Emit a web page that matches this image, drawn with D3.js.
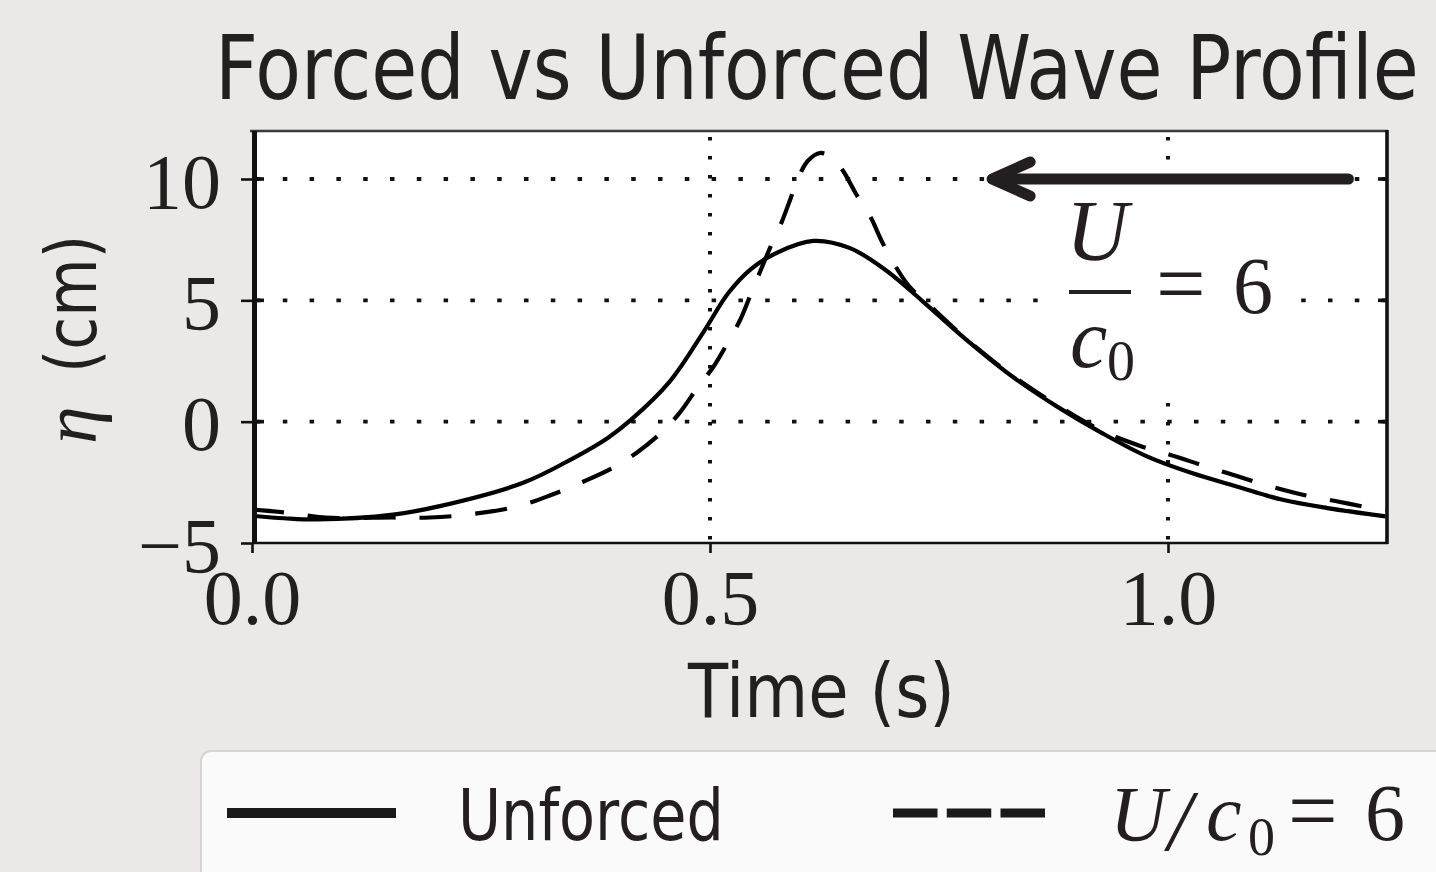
<!DOCTYPE html>
<html>
<head>
<meta charset="utf-8">
<script src="https://cdn.jsdelivr.net/npm/d3@7"></script>
<style>
  html, body { margin: 0; padding: 0; background: #eae9e7; }
  svg { display: block; }
</style>
</head>
<body>
<svg id="chart" width="1436" height="872"></svg>
<script>
// Surface elevation at the gauge, unforced run
const unforcedT   = [0, 0.035, 0.071, 0.154, 0.205, 0.296, 0.350, 0.388, 0.413, 0.456, 0.493, 0.520, 0.545, 0.574, 0.613, 0.653, 0.692, 0.731, 0.780, 0.830, 0.879, 0.928, 0.977, 1.026, 1.075, 1.124, 1.174, 1.238];
const unforcedEta = [-3.88, -3.98, -4.03, -3.83, -3.48, -2.52, -1.52, -0.68, 0.05, 1.65, 3.7, 5.3, 6.3, 6.98, 7.45, 7.15, 6.24, 5.0, 3.37, 1.86, 0.62, -0.47, -1.43, -2.12, -2.67, -3.21, -3.56, -3.9];

// Surface elevation with wind forcing U/c0 = 6
const forcedT   = [0, 0.038, 0.08, 0.154, 0.194, 0.235, 0.289, 0.328, 0.360, 0.394, 0.420, 0.448, 0.467, 0.487, 0.503, 0.520, 0.533, 0.545, 0.556, 0.566, 0.578, 0.588, 0.597, 0.607, 0.620, 0.633, 0.645, 0.660, 0.675, 0.688, 0.701, 0.717, 0.741, 0.780, 0.830, 0.879, 0.928, 0.972, 1.002, 1.041, 1.076, 1.112, 1.147, 1.184, 1.223, 1.238];
const forcedEta = [-3.62, -3.75, -3.95, -3.95, -3.95, -3.83, -3.5, -3.0, -2.5, -1.9, -1.28, -0.41, 0.37, 1.44, 2.22, 3.3, 4.2, 5.3, 6.3, 7.2, 8.2, 9.2, 10.1, 10.75, 11.07, 10.9, 10.35, 9.35, 8.45, 7.4, 6.5, 5.6, 4.75, 3.4, 1.9, 0.68, -0.38, -1.03, -1.36, -1.84, -2.25, -2.67, -3.01, -3.28, -3.56, -3.62];

const xTicks = [0, 0.5, 1.0];
const xTickLabels = ["0.0", "0.5", "1.0"];
const yTicks = [10, 5, 0, -5];
const yTickLabels = ["10", "5", "0", "\u22125"];
const gridX = [0.5, 1.0];
const gridY = [10, 5, 0];

// wind direction arrow, in data units (time, elevation)
const arrowFrom = [1.197, 10];
const arrowTo = [0.808, 10];

const INK = "#231f20";
const SANS = "'DejaVu Sans', sans-serif";
const SERIF = "'Liberation Serif', 'Times New Roman', serif";

const svg = d3.select("#chart");
const plot = { left: 252, right: 1386, top: 131, bottom: 543 };

const x = d3.scaleLinear().domain([0, 1.238]).range([plot.left, plot.right]);
const y = d3.scaleLinear().domain([-5, 12]).range([plot.bottom, plot.bottom - (plot.bottom - 179) * 17 / 15]);

// Sans text squeezed horizontally to a given width, anchored at its left baseline point
function narrowText(parent, str, px, py, size, width) {
  const g = parent.append("g");
  const t = g.append("text")
    .attr("x", 0).attr("y", 0)
    .attr("font-family", SANS).attr("font-size", size)
    .attr("fill", INK)
    .text(str);
  const natural = t.node().getComputedTextLength();
  g.attr("transform", `translate(${px},${py}) scale(${width / natural},1)`);
  return g;
}

// title
narrowText(svg, "Forced vs Unforced Wave Profile", 215, 99, 89, 1204);

// plot face
svg.append("rect")
  .attr("x", plot.left).attr("y", plot.top)
  .attr("width", plot.right - plot.left).attr("height", plot.bottom - plot.top)
  .attr("fill", "#ffffff");

svg.append("clipPath").attr("id", "plotClip")
  .append("rect")
  .attr("x", plot.left).attr("y", plot.top)
  .attr("width", plot.right - plot.left).attr("height", plot.bottom - plot.top);

const inner = svg.append("g").attr("clip-path", "url(#plotClip)");

// dotted grid
inner.selectAll("line.gy").data(gridY).join("line")
  .attr("class", "gy")
  .attr("x1", plot.left + 4).attr("x2", plot.right)
  .attr("y1", d => y(d)).attr("y2", d => y(d))
  .attr("stroke", "#111").attr("stroke-width", 3.8)
  .attr("stroke-dasharray", "4.5,22.3");

inner.selectAll("line.gx").data(gridX).join("line")
  .attr("class", "gx")
  .attr("x1", d => x(d)).attr("x2", d => x(d))
  .attr("y1", plot.top + 6).attr("y2", plot.bottom)
  .attr("stroke", "#111").attr("stroke-width", 4)
  .attr("stroke-dasharray", "3.6,15.4");

// annotation backing
inner.append("rect")
  .attr("x", 1045).attr("y", 190)
  .attr("width", 250).attr("height", 200)
  .attr("fill", "#ffffff");

const line = d3.line()
  .x(d => x(d[0])).y(d => y(d[1]))
  .curve(d3.curveCatmullRom.alpha(0.5));

const forced = d3.zip(forcedT, forcedEta);
const unforced = d3.zip(unforcedT, unforcedEta);

inner.append("path")
  .datum(forced)
  .attr("d", line)
  .attr("fill", "none").attr("stroke", "#000")
  .attr("stroke-width", 4.2)
  .attr("stroke-dasharray", "32,24");

inner.append("path")
  .datum(unforced)
  .attr("d", line)
  .attr("fill", "none").attr("stroke", "#000")
  .attr("stroke-width", 4.2);

// arrow showing wind direction
const ax0 = x(arrowFrom[0]), ay0 = y(arrowFrom[1]);
const ax1 = x(arrowTo[0]), ay1 = y(arrowTo[1]);
const arrow = inner.append("g")
  .attr("stroke", "#231f20").attr("stroke-width", 11)
  .attr("stroke-linecap", "round").attr("stroke-linejoin", "round")
  .attr("fill", "none");
arrow.append("line").attr("x1", ax0).attr("y1", ay0).attr("x2", ax1 + 4).attr("y2", ay1);
arrow.append("path")
  .attr("d", `M${ax1 + 38},${ay1 - 17} L${ax1},${ay1} L${ax1 + 38},${ay1 + 17}`);

// U / c0 = 6 annotation
const note = svg.append("g").attr("fill", INK).attr("font-family", SERIF);
note.append("text")
  .attr("x", 1066).attr("y", 260)
  .attr("font-size", 86).attr("font-style", "italic")
  .text("U");
note.append("line")
  .attr("x1", 1069).attr("x2", 1131)
  .attr("y1", 292).attr("y2", 292)
  .attr("stroke", INK).attr("stroke-width", 4);
note.append("text")
  .attr("x", 1070).attr("y", 367)
  .attr("font-size", 84).attr("font-style", "italic")
  .text("c");
note.append("text")
  .attr("x", 1107).attr("y", 380)
  .attr("font-size", 56)
  .text("0");
note.append("text")
  .attr("x", 1156).attr("y", 313)
  .attr("font-size", 88)
  .text("=");
note.append("text")
  .attr("x", 1233).attr("y", 313)
  .attr("font-size", 80)
  .text("6");

// spines
const spines = svg.append("g").attr("stroke", "#111");
spines.append("line").attr("x1", plot.left - 2).attr("x2", plot.right + 2)
  .attr("y1", plot.top).attr("y2", plot.top)
  .attr("stroke", "#3a3a3a").attr("stroke-width", 2.6);
spines.append("line").attr("x1", plot.left).attr("x2", plot.right + 2)
  .attr("y1", plot.bottom).attr("y2", plot.bottom)
  .attr("stroke-width", 2.6);
spines.append("line").attr("x1", plot.left + 2.5).attr("x2", plot.left + 2.5)
  .attr("y1", plot.top).attr("y2", plot.bottom + 1)
  .attr("stroke-width", 5);
spines.append("line").attr("x1", plot.right + 1).attr("x2", plot.right + 1)
  .attr("y1", plot.top - 1).attr("y2", plot.bottom + 1)
  .attr("stroke-width", 3.6);

// y axis
const yAxis = d3.axisLeft(y)
  .tickValues(yTicks)
  .tickSize(11)
  .tickPadding(20)
  .tickFormat((d, i) => yTickLabels[i]);
const gy = svg.append("g").attr("transform", `translate(${plot.left},0)`).call(yAxis);
gy.select(".domain").remove();
gy.selectAll(".tick line").attr("stroke", "#111").attr("stroke-width", 2.6);
gy.selectAll(".tick text")
  .attr("font-family", SERIF).attr("font-size", 78)
  .attr("fill", INK).attr("dy", "0.36em");

// inward tick marks on both sides
const innerTicks = svg.append("g").attr("stroke", "#111").attr("stroke-width", 3.6);
innerTicks.selectAll("line.l").data(gridY).join("line").attr("class", "l")
  .attr("x1", plot.left).attr("x2", plot.left + 12)
  .attr("y1", d => y(d)).attr("y2", d => y(d));
innerTicks.selectAll("line.r").data(gridY).join("line").attr("class", "r")
  .attr("x1", plot.right - 8).attr("x2", plot.right)
  .attr("y1", d => y(d)).attr("y2", d => y(d));

// x axis
const xAxis = d3.axisBottom(x)
  .tickValues(xTicks)
  .tickSize(10)
  .tickPadding(20)
  .tickFormat((d, i) => xTickLabels[i]);
const gx = svg.append("g").attr("transform", `translate(0,${plot.bottom})`).call(xAxis);
gx.select(".domain").remove();
gx.selectAll(".tick line").attr("stroke", "#111").attr("stroke-width", 2.6);
gx.selectAll(".tick text")
  .attr("font-family", SERIF).attr("font-size", 78)
  .attr("fill", INK).attr("dy", "0.66em");

// axis titles
narrowText(svg, "Time (s)", 688, 717, 75, 267);

const yl = svg.append("g").attr("transform", "translate(96,340) rotate(-90)").attr("fill", INK);
yl.append("text")
  .attr("x", -104).attr("y", 0)
  .attr("font-family", SERIF).attr("font-style", "italic").attr("font-size", 76)
  .text("\u03b7");
narrowText(yl, "(cm)", -33, 0, 72, 138);

// legend
const lg = svg.append("g");
lg.append("rect")
  .attr("x", 201).attr("y", 751)
  .attr("width", 1300).attr("height", 200)
  .attr("rx", 10)
  .attr("fill", "#fafafa").attr("stroke", "#d4d4d4").attr("stroke-width", 2);
lg.append("line")
  .attr("x1", 227).attr("x2", 396).attr("y1", 813).attr("y2", 813)
  .attr("stroke", "#1a1a1a").attr("stroke-width", 10);
narrowText(lg, "Unforced", 458, 840, 72, 266);
lg.append("line")
  .attr("x1", 893).attr("x2", 1045).attr("y1", 813).attr("y2", 813)
  .attr("stroke", "#1a1a1a").attr("stroke-width", 9)
  .attr("stroke-dasharray", "44.5,9.25");
const lm = lg.append("g").attr("fill", INK).attr("font-family", SERIF);
lm.append("text").attr("x", 1110).attr("y", 840)
  .attr("font-size", 78).attr("font-style", "italic").text("U");
lm.append("text").attr("x", 1168).attr("y", 850)
  .attr("font-size", 86).attr("font-style", "italic").text("/");
lm.append("text").attr("x", 1206).attr("y", 840)
  .attr("font-size", 80).attr("font-style", "italic").text("c");
lm.append("text").attr("x", 1248).attr("y", 855)
  .attr("font-size", 54).text("0");
lm.append("text").attr("x", 1288).attr("y", 840)
  .attr("font-size", 88).text("=");
lm.append("text").attr("x", 1365).attr("y", 840)
  .attr("font-size", 80).text("6");
</script>
</body>
</html>
